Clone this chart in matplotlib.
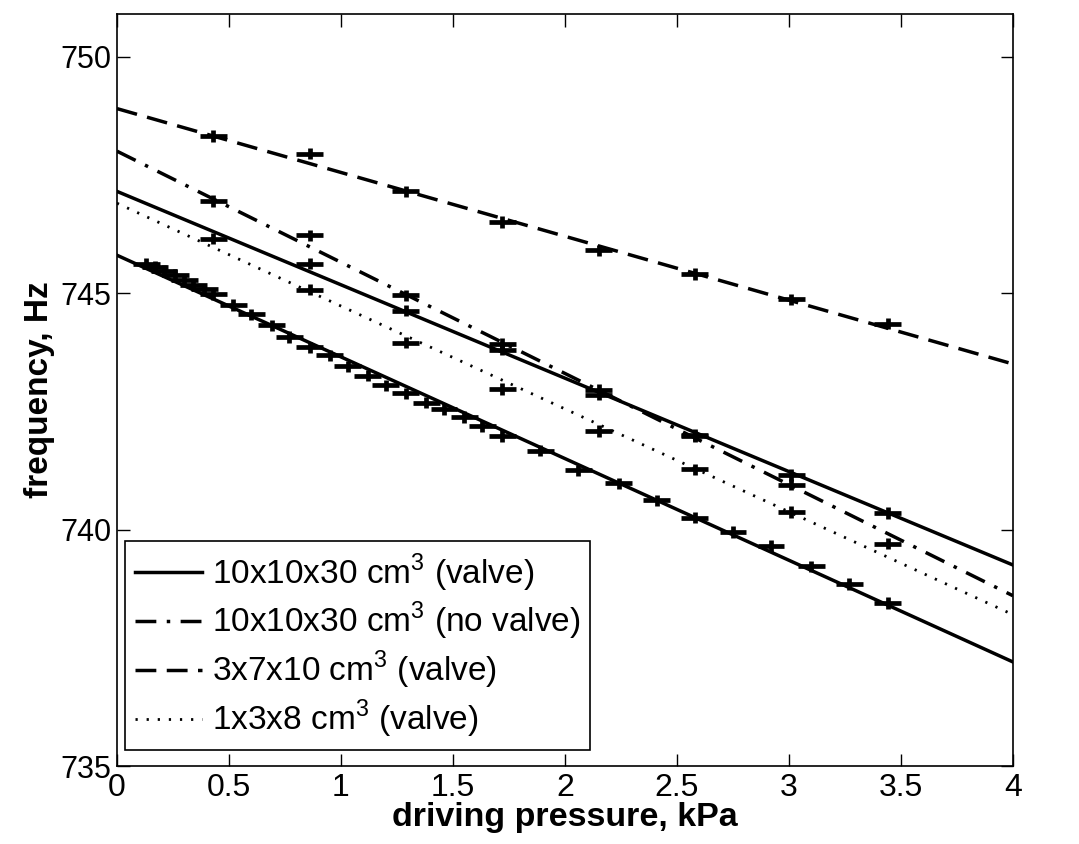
import matplotlib
matplotlib.use('Agg')
import matplotlib.pyplot as plt
import numpy as np

plt.rcParams['font.family'] = ['Liberation Sans', 'DejaVu Sans']
plt.rcParams['mathtext.fontset'] = 'custom'
plt.rcParams['mathtext.rm'] = 'Liberation Sans'

# data
p_sparse = [0.43, 0.86, 1.29, 1.72, 2.15, 2.58, 3.01, 3.44]
f_3x7x10 = [748.32, 747.95, 747.15, 746.50, 745.90, 745.40, 744.87, 744.35]
f_novalve = [746.95, 746.22, 744.95, 743.92, 742.95, 741.97, 740.95, 739.70]
f_valve = [746.15, 745.62, 744.63, 743.80, 742.85, 742.00, 741.15, 740.35]

p_1x3x8 = [0.86, 1.29, 1.72, 2.15, 2.58, 3.01]
f_1x3x8 = [745.07, 743.95, 742.97, 742.08, 741.27, 740.37]

p_dense = [0.13, 0.17, 0.21, 0.26, 0.30, 0.34, 0.39, 0.43, 0.52, 0.60, 0.69,
           0.77, 0.86, 0.95, 1.03, 1.12, 1.20, 1.29, 1.38, 1.46, 1.55, 1.63,
           1.72, 1.89, 2.06, 2.24, 2.41, 2.58, 2.75, 2.92, 3.10, 3.27, 3.44]
f_dense = [745.62, 745.55, 745.47, 745.38, 745.28, 745.18, 745.08, 744.98,
           744.75, 744.55, 744.32, 744.07, 743.85, 743.68, 743.45, 743.25,
           743.05, 742.88, 742.68, 742.55, 742.38, 742.18, 741.98, 741.67,
           741.25, 740.98, 740.62, 740.25, 739.95, 739.65, 739.22, 738.85,
           738.45]

# linear fits, values at the ends of the axis
p_fit = [0, 4]
fit_valve = [747.15, 739.25]
fit_novalve = [748.0, 738.6]
fit_3x7x10 = [748.9, 743.5]
fit_1x3x8 = [746.9, 738.2]
fit_dense = [745.8, 737.2]

labels = [r'10x10x30 cm$^3$ (valve)', r'10x10x30 cm$^3$ (no valve)',
          r'3x7x10 cm$^3$ (valve)', r'1x3x8 cm$^3$ (valve)']

fig = plt.figure(figsize=(10.79, 8.44), dpi=100)
ax = fig.add_axes([0.1084, 0.0924, 0.8304, 0.891])

lw = 2.5
ax.plot(p_fit, fit_valve, '-', color='k', lw=lw, label=labels[0])
ax.plot(p_fit, fit_novalve, color='k', lw=lw, dashes=[6, 3, 1, 3], label=labels[1])
ax.plot(p_fit, fit_3x7x10, color='k', lw=lw, dashes=[6, 3], label=labels[2])
ax.plot(p_fit, fit_1x3x8, color='k', lw=lw * 0.8, dashes=[0.8, 3.2], label=labels[3])
ax.plot(p_fit, fit_dense, '-', color='k', lw=lw)

err = dict(fmt='none', ecolor='k', elinewidth=3.4, capsize=0, xerr=0.06, yerr=0.12)
for px, fy in [(p_sparse, f_3x7x10), (p_sparse, f_novalve), (p_sparse, f_valve),
               (p_1x3x8, f_1x3x8), (p_dense, f_dense)]:
    ax.errorbar(px, fy, **err)

ax.set_xlim(0, 4)
ax.set_ylim(735, 750.9)
ax.set_xticks(np.arange(0, 4.01, 0.5))
ax.set_xticklabels(['0', '0.5', '1', '1.5', '2', '2.5', '3', '3.5', '4'], fontsize=23)
ax.set_yticks([735, 740, 745, 750])
ax.set_yticklabels(['735', '740', '745', '750'], fontsize=22)
ax.tick_params(direction='in', length=9, width=1, top=True, right=True)
ax.tick_params(axis='x', pad=5)
ax.tick_params(axis='y', pad=4)
for s in ax.spines.values():
    s.set_linewidth(1.2)

ax.set_xlabel('driving pressure, kPa', fontsize=24.5, fontweight='bold', labelpad=-1)
ax.set_ylabel('frequency, Hz', fontsize=24, fontweight='bold', labelpad=4)

leg = ax.legend(loc='lower left', bbox_to_anchor=(0.009, 0.021), borderaxespad=0,
                fontsize=24, handlelength=2.0, handletextpad=0.3,
                labelspacing=0.2, borderpad=0.3, fancybox=False)
leg.get_frame().set_edgecolor('k')
leg.get_frame().set_linewidth(1.2)
leg.get_frame().set_alpha(1)

fig.savefig('out.png', dpi=100)
